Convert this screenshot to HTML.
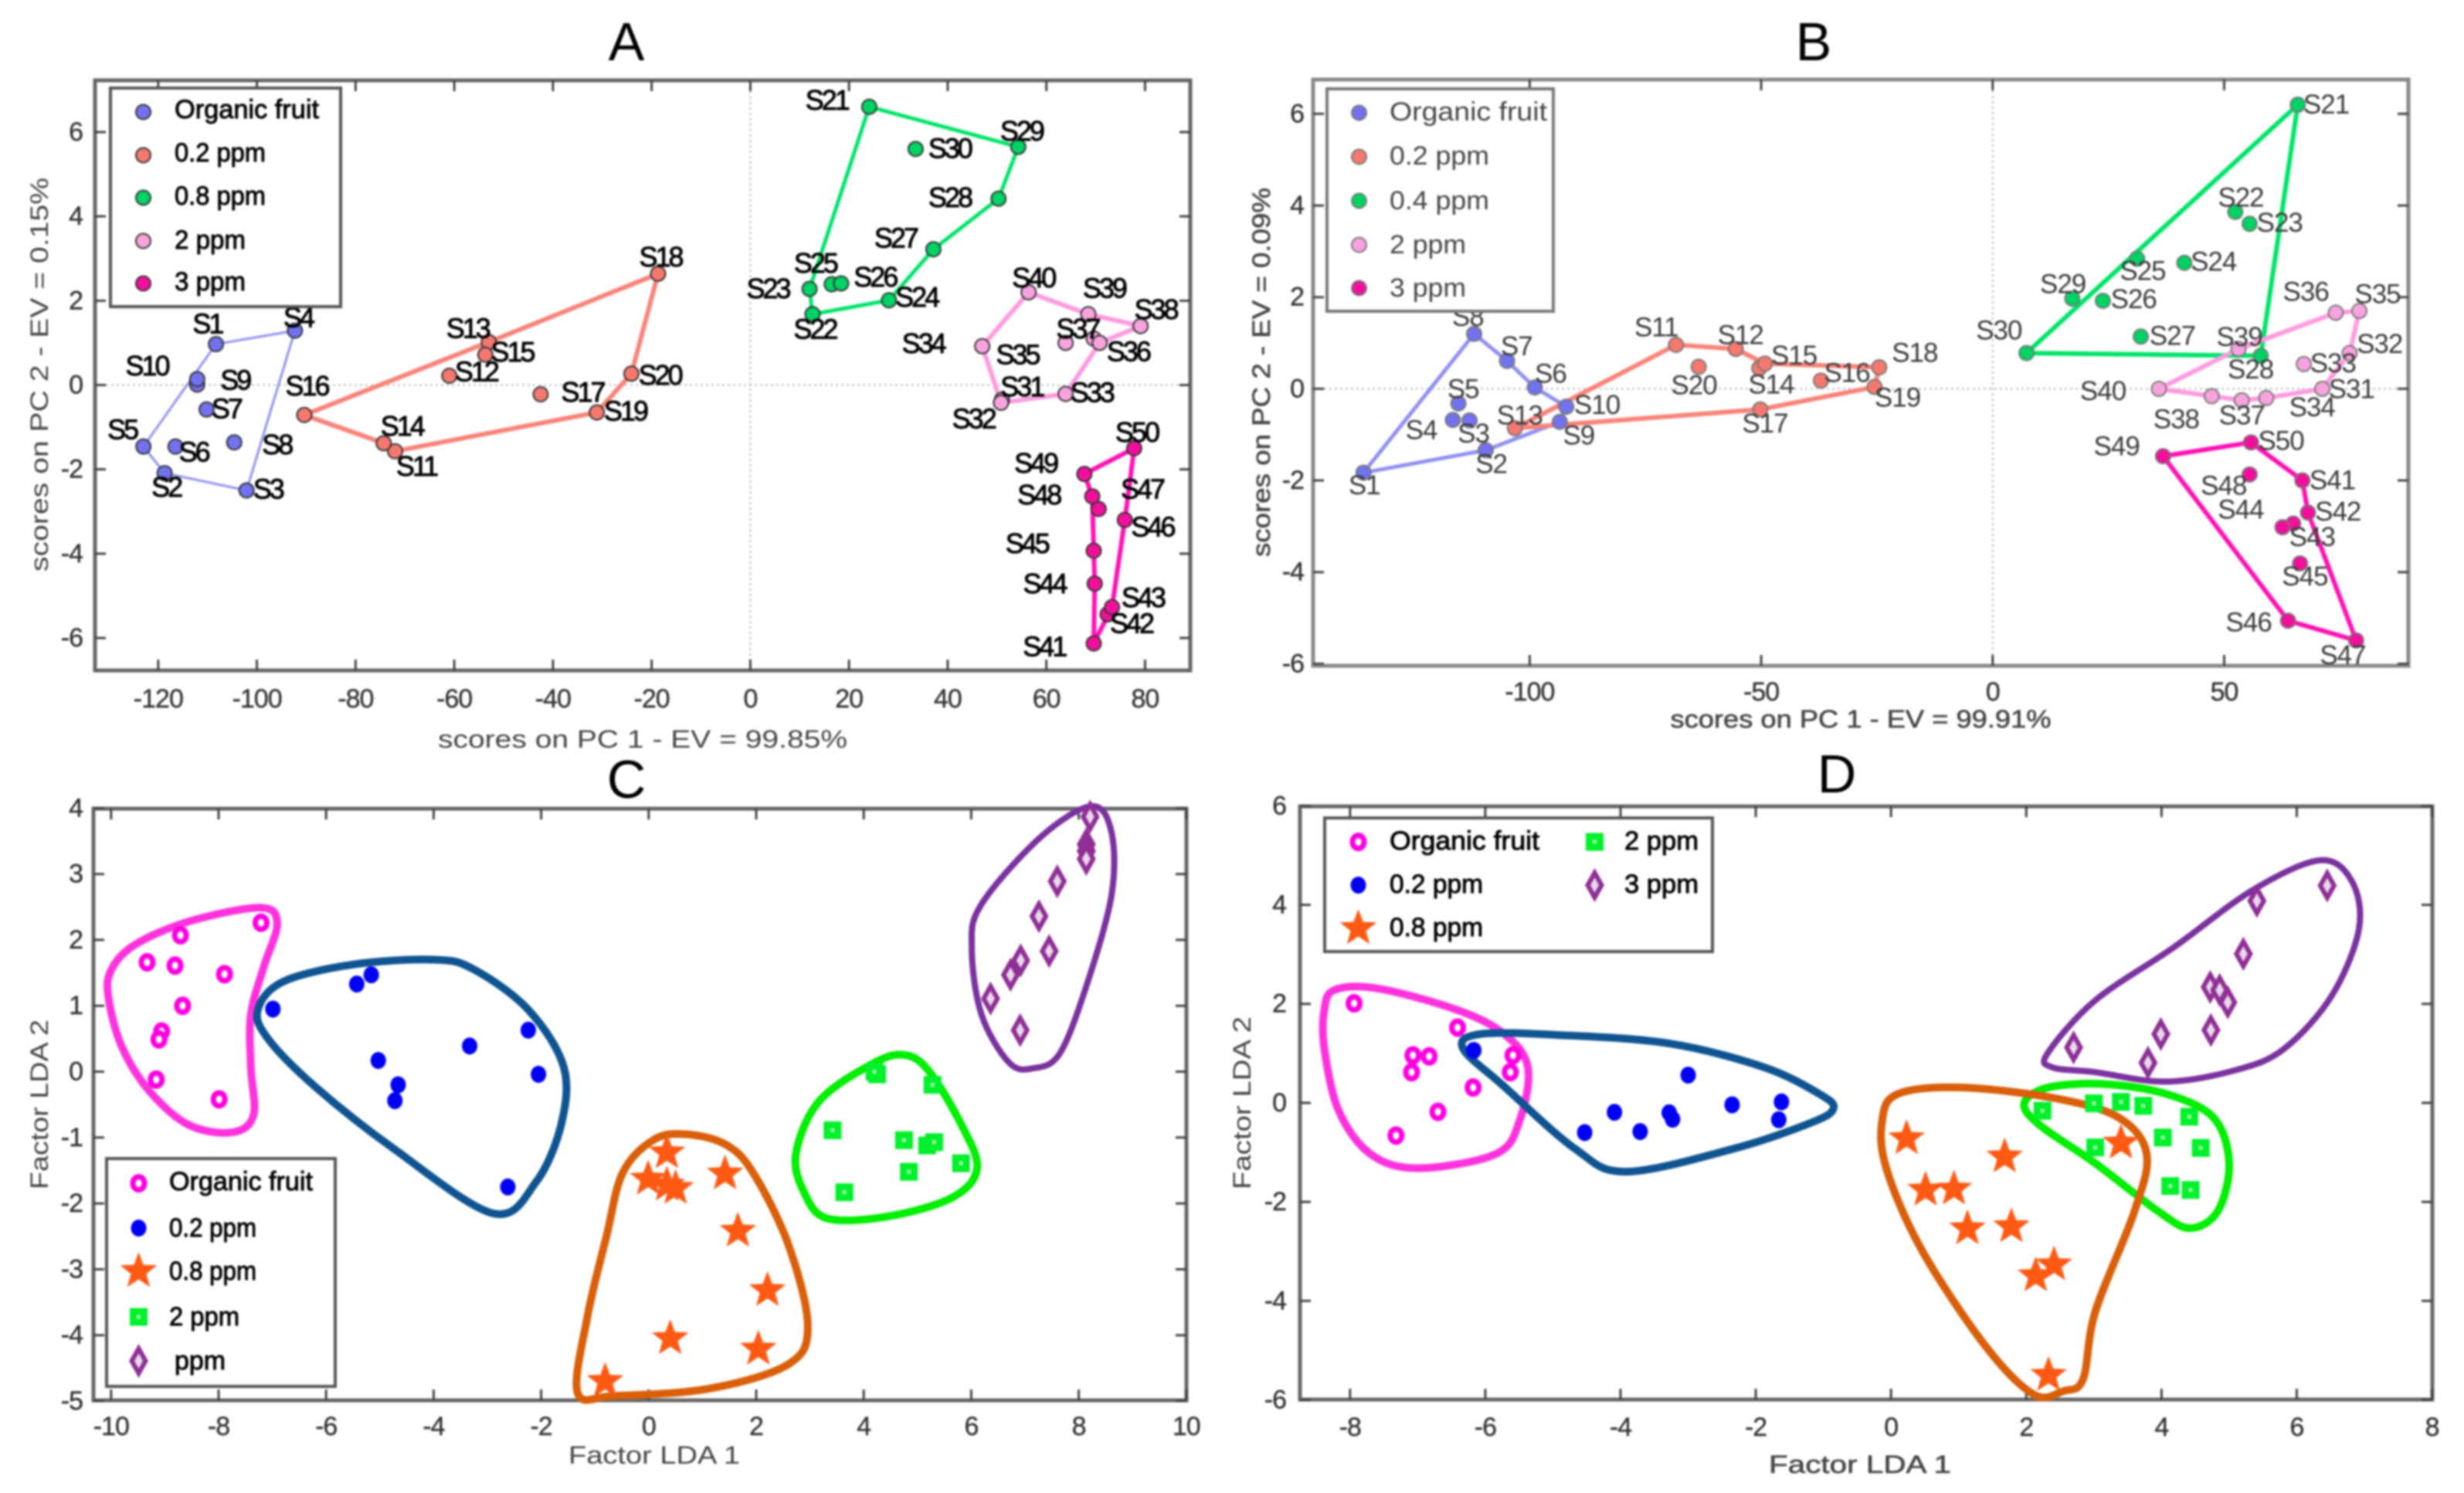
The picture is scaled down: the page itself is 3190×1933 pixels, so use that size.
<!DOCTYPE html>
<html lang="en">
<head>
<meta charset="utf-8">
<title>PCA and LDA score plots</title>
<style>
html,body{margin:0;padding:0;background:#fff;width:3190px;height:1933px;overflow:hidden}
svg{display:block;filter:blur(1.2px)}
text{font-family:"Liberation Sans",sans-serif;dominant-baseline:central}
.title{font-size:70px;fill:#000;text-anchor:middle}
.axt{font-size:32px;fill:#444;text-anchor:middle}
.leg{font-size:34px;fill:#000;stroke:#000;stroke-width:.9px}
.legb{font-size:34px;fill:#444}
.box{fill:#fff;stroke:#555;stroke-width:4}
.frame{fill:#fff;stroke:#666;stroke-width:5}
</style>
</head>
<body>
<svg id="figure" xmlns="http://www.w3.org/2000/svg" width="3190" height="1933" viewBox="0 0 3190 1933">
<rect x="0" y="0" width="3190" height="1933" fill="#fff"/>

<g id="panel-a">
  <text class="title" x="811" y="54">A</text>
  <rect class="frame" x="123" y="104" width="1418" height="764"/>
  <g id="a-marks"></g>
  <text class="axt" x="832" y="957" textLength="530" lengthAdjust="spacingAndGlyphs">scores on PC 1 - EV = 99.85%</text>
  <text class="axt" transform="translate(51 485) rotate(-90)" textLength="510" lengthAdjust="spacingAndGlyphs">scores on PC 2 - EV = 0.15%</text>
  <g id="a-legend">
    <rect class="box" x="143" y="114" width="298" height="283"/>
    <text class="leg" x="226" y="142" textLength="187" lengthAdjust="spacingAndGlyphs">Organic fruit</text>
    <text class="leg" x="226" y="198" textLength="118" lengthAdjust="spacingAndGlyphs">0.2 ppm</text>
    <text class="leg" x="226" y="254" textLength="118" lengthAdjust="spacingAndGlyphs">0.8 ppm</text>
    <text class="leg" x="226" y="311" textLength="92" lengthAdjust="spacingAndGlyphs">2 ppm</text>
    <text class="leg" x="226" y="365" textLength="92" lengthAdjust="spacingAndGlyphs">3 ppm</text>
  </g>
</g>

<g id="panel-b">
  <text class="title" x="2348" y="54">B</text>
  <rect class="frame" x="1700" y="103" width="1418" height="759" style="stroke:#888"/>
  <g id="b-marks"></g>
  <text class="axt" x="2409" y="931" textLength="493" lengthAdjust="spacingAndGlyphs" style="stroke:#444;stroke-width:.6px">scores on PC 1 - EV = 99.91%</text>
  <text class="axt" transform="translate(1633 482) rotate(-90)" textLength="478" lengthAdjust="spacingAndGlyphs" style="stroke:#444;stroke-width:.6px">scores on PC 2 - EV = 0.09%</text>
  <g id="b-legend">
    <rect class="box" x="1718" y="115" width="293" height="288" style="stroke:#777"/>
    <text class="legb" x="1799" y="145" textLength="204" lengthAdjust="spacingAndGlyphs">Organic fruit</text>
    <text class="legb" x="1799" y="202" textLength="129" lengthAdjust="spacingAndGlyphs">0.2 ppm</text>
    <text class="legb" x="1799" y="260" textLength="129" lengthAdjust="spacingAndGlyphs">0.4 ppm</text>
    <text class="legb" x="1799" y="317" textLength="99" lengthAdjust="spacingAndGlyphs">2 ppm</text>
    <text class="legb" x="1799" y="373" textLength="99" lengthAdjust="spacingAndGlyphs">3 ppm</text>
  </g>
</g>

<g id="panel-c">
  <text class="title" x="811" y="1009">C</text>
  <rect class="frame" x="121" y="1047" width="1415" height="766"/>
  <g id="c-marks"></g>
  <text class="axt" x="847" y="1884" textLength="222" lengthAdjust="spacingAndGlyphs">Factor LDA 1</text>
  <text class="axt" transform="translate(51 1430) rotate(-90)" textLength="220" lengthAdjust="spacingAndGlyphs">Factor LDA 2</text>
  <g id="c-legend">
    <rect class="box" x="138" y="1500" width="296" height="295"/>
    <text class="leg" x="219" y="1530" textLength="186" lengthAdjust="spacingAndGlyphs">Organic fruit</text>
    <text class="leg" x="219" y="1590" textLength="113" lengthAdjust="spacingAndGlyphs">0.2 ppm</text>
    <text class="leg" x="219" y="1646" textLength="113" lengthAdjust="spacingAndGlyphs">0.8 ppm</text>
    <text class="leg" x="219" y="1705" textLength="91" lengthAdjust="spacingAndGlyphs">2 ppm</text>
    <text class="leg" x="226" y="1762" textLength="66" lengthAdjust="spacingAndGlyphs">ppm</text>
  </g>
</g>

<g id="panel-d">
  <text class="title" x="2378" y="1002">D</text>
  <rect class="frame" x="1683" y="1044" width="1466" height="768"/>
  <g id="d-marks"></g>
  <text class="axt" x="2408" y="1896" textLength="236" lengthAdjust="spacingAndGlyphs" style="stroke:#444;stroke-width:.6px">Factor LDA 1</text>
  <text class="axt" transform="translate(1608 1428) rotate(-90)" textLength="224" lengthAdjust="spacingAndGlyphs">Factor LDA 2</text>
  <g id="d-legend">
    <rect class="box" x="1715" y="1059" width="502" height="173"/>
    <text class="leg" x="1799" y="1089" textLength="194" lengthAdjust="spacingAndGlyphs">Organic fruit</text>
    <text class="leg" x="1799" y="1145" textLength="121" lengthAdjust="spacingAndGlyphs">0.2 ppm</text>
    <text class="leg" x="1799" y="1201" textLength="121" lengthAdjust="spacingAndGlyphs">0.8 ppm</text>
    <text class="leg" x="2103" y="1089" textLength="96" lengthAdjust="spacingAndGlyphs">2 ppm</text>
    <text class="leg" x="2103" y="1145" textLength="96" lengthAdjust="spacingAndGlyphs">3 ppm</text>
  </g>
</g>
</svg>

<script>
/* ---------- shared sample names ---------- */
const sampleNames = ['S1','S2','S3','S4','S5','S6','S7','S8','S9','S10','S11','S12','S13','S14','S15','S16','S17','S18','S19','S20','S21','S22','S23','S24','S25','S26','S27','S28','S29','S30','S31','S32','S33','S34','S35','S36','S37','S38','S39','S40','S41','S42','S43','S44','S45','S46','S47','S48','S49','S50'];

/* ---------- panel A: PCA scores ---------- */
const aScoresX = [-108.3,-118.7,-102.1,-92.3,-123,-116.5,-110.2,-104.6,-112.1,-112.1, -72,-61,-53,-74.3,-53.7,-90.4,-42.5,-18.7,-31.1,-24.1, 24.1,12.6,12,28.1,16.5,18.4,37.1,50.3,54.3,33.5, 51,50.8,63.9,47,69.6,70.8,63.9,79.1,68.5,56.4, 69.6,72.4,73.3,69.8,69.6,75.9,70.6,69.3,67.7,77.8];
const aScoresY = [0.97,-2.09,-2.5,1.29,-1.46,-1.46,-0.58,-1.36,0.01,0.14, -1.57,0.22,1.02,-1.38,0.72,-0.71,-0.22,2.64,-0.65,0.27, 6.6,1.68,2.28,2.01,2.39,2.41,3.22,4.42,5.65,5.6, -0.35,-0.42,-0.21,0.92,1.1,1.0,1.0,1.4,1.68,2.2, -6.13,-5.44,-5.27,-4.71,-3.93,-3.2,-2.94,-2.64,-2.11,-1.5];
const aXTicks = [-120,-100,-80,-60,-40,-20,0,20,40,60,80];
const aYTicks = [-6,-4,-2,0,2,4,6];
const aHulls = [[1,4,3,2,5],[16,13,18,20,19,11,14],[21,29,28,27,24,22,23],[40,39,38,36,33,32,34],[49,50,46,43,41,44,45,48]];

/* ---------- panel B: PCA scores ---------- */
const bScoresX = [-135.9,-109.5,-113,-116.6,-115.4,-98.9,-104.9,-112,-93.5,-92.1, -68.4,-55.5,-103.2,-50.4,-49.2,-37.1,-50.2,-24.5,-25.5,-63.5, 65.9,52.4,55.5,41.4,31.2,23.8,32,57.9,17.2,7.3, 71.2,77.1,67.2,59.1,79.2,74.1,53.8,47.3,53.1,35.9, 66.9,68.1,64.9,62.6,66.4,63.8,78.5,55.5,36.8,55.8];
const bScoresY = [-1.83,-1.34,-0.69,-0.68,-0.32,0.03,0.61,1.2,-0.72,-0.39, 0.96,0.87,-0.86,0.45,0.55,0.18,-0.45,0.47,0.04,0.48, 6.2,3.86,3.6,2.75,2.84,1.92,1.14,0.72,1.97,0.78, 0,0.78,0.54,-0.2,1.7,1.66,-0.25,-0.16,0.87,0, -2,-2.7,-2.94,-3.02,-3.81,-5.06,-5.49,-1.87,-1.47,-1.17];
const bXTicks = [-100,-50,0,50];
const bYTicks = [-6,-4,-2,0,2,4,6];
const bHulls = [[1,8,7,6,10,9,2],[13,11,12,15,18,19,17],[30,21,28],[40,39,36,35,32,31,34,37,38],[49,50,41,42,47,46]];

/* ---------- panel C: LDA factors ---------- */
const cXTicks = [-10,-8,-6,-4,-2,0,2,4,6,8,10];
const cYTicks = [-5,-4,-3,-2,-1,0,1,2,3,4];
const cOrganicX = [-9.33,-8.81,-8.71,-7.21,-7.89,-8.67,-9.06,-9.11,-9.16,-7.99];
const cOrganicY = [1.66,1.61,2.07,2.26,1.48,1.0,0.61,0.49,-0.12,-0.42];
const cPpm02X = [-6.99,-5.43,-5.16,-5.03,-4.66,-4.72,-3.33,-2.24,-2.05,-2.62];
const cPpm02Y = [0.95,1.33,1.47,0.17,-0.2,-0.44,0.39,0.63,-0.04,-1.75];
const cPpm08X = [0.34,-0.01,0.34,0.5,1.42,1.66,2.21,0.4,2.04,-0.81];
const cPpm08Y = [-1.23,-1.63,-1.72,-1.77,-1.55,-2.42,-3.32,-4.05,-4.21,-4.7];
const cPpm2X = [4.25,4.2,5.28,3.42,4.75,5.18,5.31,4.84,5.81,3.64];
const cPpm2Y = [-0.04,0,-0.2,-0.89,-1.04,-1.12,-1.07,-1.52,-1.39,-1.83];
const cPpm3X = [8.21,8.14,8.14,8.14,7.6,7.26,7.45,6.92,6.73,6.36,6.91];
const cPpm3Y = [3.87,3.45,3.35,3.23,2.89,2.36,1.83,1.69,1.47,1.11,0.63];
const cOrganicOutline = [[-10.01,1.52],[-9.57,1.92],[-8.55,2.28],[-7.23,2.49],[-6.91,2.25],[-7.16,1.59],[-7.4,0.87],[-7.4,0.07],[-7.35,-0.66],[-7.74,-0.92],[-8.55,-0.81],[-9.28,-0.3],[-9.79,0.36],[-10.04,1.08]];
const cPpm02Outline = [[-7.27,0.94],[-6.79,1.37],[-5.47,1.63],[-4,1.7],[-3.27,1.56],[-2.24,0.94],[-1.58,0.07],[-1.63,-0.81],[-2.1,-1.68],[-2.9,-2.15],[-4.74,-1.17],[-6.2,-0.23],[-7.08,0.5]];
const cPpm08Outline = [[-1.32,-4.88],[-1.14,-3.72],[-0.78,-2.48],[-0.48,-1.53],[0.1,-1.03],[0.69,-0.95],[1.42,-1.1],[1.94,-1.53],[2.6,-2.63],[2.96,-3.86],[2.6,-4.44],[1.13,-4.81],[-0.63,-4.92]];
const cPpm2Outline = [[2.74,-1.24],[3.18,-0.44],[4.21,0.14],[4.79,0.25],[5.23,-0.01],[5.82,-0.81],[6.11,-1.46],[5.67,-1.9],[4.5,-2.19],[3.33,-2.23],[2.89,-1.83]];
const cPpm3Outline = [[6.01,1.88],[6.19,2.54],[7.29,3.56],[8.24,4.03],[8.61,3.63],[8.61,2.68],[8.17,1.37],[7.65,0.28],[7.14,0.05],[6.7,0.14],[6.19,0.87]];

/* ---------- panel D: LDA factors ---------- */
const dXTicks = [-8,-6,-4,-2,0,2,4,6,8];
const dYTicks = [-6,-4,-2,0,2,4,6];
const dOrganicX = [-7.94,-6.41,-7.07,-6.83,-7.09,-6.18,-6.7,-7.32,-5.59,-5.63];
const dOrganicY = [2.01,1.52,0.96,0.94,0.62,0.31,-0.18,-0.66,0.96,0.62];
const dPpm02X = [-6.17,-4.53,-4.09,-3.71,-3.28,-3.23,-3,-2.35,-1.62,-1.66];
const dPpm02Y = [1.06,-0.6,-0.19,-0.58,-0.2,-0.33,0.56,-0.04,0.02,-0.34];
const dPpm08X = [0.23,1.68,0.51,0.93,1.13,1.78,2.41,2.14,2.33,3.4];
const dPpm08Y = [-0.72,-1.09,-1.76,-1.74,-2.54,-2.5,-3.27,-3.49,-5.5,-0.81];
const dPpm2X = [2.24,3,3.4,3.73,4.41,4.02,4.58,3.02,4.13,4.43];
const dPpm2Y = [-0.16,-0.01,0.02,-0.06,-0.28,-0.7,-0.91,-0.9,-1.68,-1.76];
const dPpm3X = [6.45,5.41,5.21,4.72,4.86,4.98,4.73,3.99,3.8,2.7];
const dPpm3Y = [4.39,4.08,3.01,2.34,2.28,2.03,1.47,1.39,0.81,1.12];
const dOrganicOutline = [[-8.38,1.88],[-8.23,2.28],[-7.59,2.31],[-6.42,1.88],[-5.72,1.39],[-5.37,0.72],[-5.49,-0.35],[-5.84,-1.03],[-7,-1.32],[-7.7,-1.03],[-8.17,-0.15],[-8.38,1.1]];
const dPpm02Outline = [[-6.33,1.1],[-6.07,1.39],[-4.91,1.37],[-3.28,1.2],[-1.88,0.72],[-1.06,0.18],[-0.85,-0.11],[-1.18,-0.4],[-2.34,-0.93],[-3.92,-1.39],[-4.67,-0.93],[-5.72,0.33]];
const dPpm08Outline = [[-0.13,-0.35],[0.1,0.18],[1.04,0.31],[2.44,0.09],[3.37,-0.3],[3.78,-1.03],[3.6,-2.19],[3.02,-4.22],[2.84,-5.58],[2.55,-5.82],[2.11,-5.89],[1.39,-4.9],[0.45,-2.96],[-0.07,-1.32]];
const dPpm2Outline = [[1.97,-0.01],[2.32,0.31],[3.14,0.38],[4.07,0.18],[4.77,-0.3],[5,-1.22],[4.83,-2.19],[4.42,-2.53],[3.95,-2.19],[3.02,-1.22],[2.2,-0.45]];
const dPpm3Outline = [[2.32,1.01],[3.02,2.07],[4.18,3.14],[5.35,4.3],[6.34,4.9],[6.81,4.49],[6.92,3.52],[6.52,2.17],[5.82,1.1],[5.12,0.67],[4.07,0.43],[3.02,0.62],[2.38,0.72]];

/* ---------- layout (label nudges, not data) ---------- */
const aLabelNudge = [[-11,-42],[2,28],[27,-3],[4,-27],[-27,-35],[23,11],[25,-2],[54,4],[48,-9],[-64,-27],[27,30],[34,-9],[-27,-28],[23,-35],[34,-6],[3,-59],[53,-5],[3,-34],[36,-3],[36,3],[-54,-14],[3,30],[-53,-1],[35,-7],[-21,-43],[43,-13],[-48,-23],[-62,-3],[4,-32],[43,-1],[25,-27],[-35,32],[33,-3],[-75,-6],[-97,32],[36,17],[15,-29],[19,-34],[20,-53],[6,-30],[-63,6],[30,18],[39,-20],[-64,0],[-85,-15],[35,14],[55,-41],[-68,-3],[-62,-22],[3,-33]];
const bLabelNudge = [[1,26],[7,28],[5,27],[-40,21],[6,-29],[20,-28],[12,-29],[-8,-34],[24,28],[39,-3],[-25,-35],[6,-28],[6,-26],[15,33],[37,-16],[33,-15],[6,29],[45,-29],[29,22],[-6,38],[36,0],[7,-29],[38,-2],[37,-2],[7,25],[39,-3],[40,-1],[-13,28],[-12,-29],[-35,-46],[37,1],[38,-18],[37,-1],[58,19],[23,-34],[-38,-42],[0,31],[-45,47],[1,-24],[-71,5],[38,0],[38,-2],[24,28],[-53,-35],[6,27],[-50,4],[-17,30],[-33,23],[-59,-20],[38,-3]];

const NS = 'http://www.w3.org/2000/svg';
function make(parent, tag, attrs) {
  const el = document.createElementNS(NS, tag);
  for (const k in attrs) el.setAttribute(k, attrs[k]);
  parent.appendChild(el);
  return el;
}
function linear(zeroPx, pxPerUnit) { return v => zeroPx + pxPerUnit * v; }

const axisA = { x: linear(971.4, 6.388), y: linear(498.5, -54.58), box: [123, 104, 1541, 868], xLabelY: 905, yLabelX: 107 };
const axisB = { x: linear(2579.8, 5.994), y: linear(503.4, -59.33), box: [1700, 103, 3118, 862], xLabelY: 896, yLabelX: 1688 };
const axisC = { x: linear(839.8, 69.6), y: linear(1387.5, -85.3), box: [121, 1047, 1536, 1813], xLabelY: 1847, yLabelX: 107 };
const axisD = { x: linear(2448.2, 87.55), y: linear(1427.9, -64.1), box: [1683, 1044, 3149, 1812], xLabelY: 1848, yLabelX: 1665 };

function drawAxes(parent, axis, xTicks, yTicks, zeroLines) {
  const [l, t, r, b] = axis.box;
  if (zeroLines) {
    const zx = make(parent, 'line', { x1: axis.x(0), x2: axis.x(0), y1: t, y2: b, stroke: '#bbb', 'stroke-width': 2, 'stroke-dasharray': '3 4' });
    
    
    const zy = make(parent, 'line', { x1: l, x2: r, y1: axis.y(0), y2: axis.y(0), stroke: '#bbb', 'stroke-width': 2, 'stroke-dasharray': '3 4' });
    
    
  }
  xTicks.forEach(v => {
    const p = axis.x(v);
    const tb = make(parent, 'path', { d: `M${p} ${b}V${b - 14}M${p} ${t}V${t + 14}`, stroke: '#444', 'stroke-width': 3, fill: 'none' });
    
    
    const lab = make(parent, 'text', { x: p, y: axis.xLabelY, 'text-anchor': 'middle', 'font-size': 34, fill: '#333', stroke: '#333', 'stroke-width': 0.4, 'letter-spacing': -1 });
    
    
    lab.textContent = String(v);
  });
  yTicks.forEach(v => {
    const p = axis.y(v);
    const tb = make(parent, 'path', { d: `M${l} ${p}H${l + 14}M${r} ${p}H${r - 14}`, stroke: '#444', 'stroke-width': 3, fill: 'none' });
    
    
    const lab = make(parent, 'text', { x: axis.yLabelX, y: p, 'text-anchor': 'end', 'font-size': 34, fill: '#333', stroke: '#333', 'stroke-width': 0.4, 'letter-spacing': -1 });
    
    
    lab.textContent = String(v);
  });
}

const discFill = ['#7272ee', '#f4786e', '#00d264', '#f7a3de', '#f0109c'];
const hullStroke = ['#8f8ff2', '#f98379', '#00e468', '#ff9be0', '#ff12b4'];

function disc(parent, cx, cy, fill, edge) {
  return make(parent, 'circle', { cx: cx, cy: cy, r: 9.5, fill: fill, stroke: edge, 'stroke-width': 2 });
}

function drawScores(parent, axis, xs, ys, hulls, nudge, hullWidths, edge, labelAttrs) {
  hulls.forEach((hull, i) => {
    const pts = hull.map(n => axis.x(xs[n - 1]) + ',' + axis.y(ys[n - 1])).join(' ');
    const poly = make(parent, 'polygon', { points: pts, fill: 'none', stroke: hullStroke[i], 'stroke-width': hullWidths[i], 'stroke-linejoin': 'round' });
    
    
  });
  xs.forEach((v, i) => {
    const group = Math.floor(i / 10);
    const pt = disc(parent, axis.x(v), axis.y(ys[i]), discFill[group], edge);
    
    
  });
  xs.forEach((v, i) => {
    const lab = make(parent, 'text', Object.assign({
      x: axis.x(v) + nudge[i][0] * 1.0204,
      y: axis.y(ys[i]) + nudge[i][1] * 0.638,
      'text-anchor': 'middle'
    }, labelAttrs));
    
    
    lab.textContent = sampleNames[i];
  });
}

function starPath(cx, cy, R) {
  let d = '';
  for (let i = 0; i < 10; i++) {
    const rad = i % 2 ? R * 0.42 : R;
    const a = -Math.PI / 2 + i * Math.PI / 5;
    d += (i ? 'L' : 'M') + (cx + rad * Math.cos(a)) + ' ' + (cy + rad * Math.sin(a));
  }
  return d + 'Z';
}

function ldaMarker(parent, kind, cx, cy) {
  if (kind === 'ring') return make(parent, 'ellipse', { cx: cx, cy: cy, rx: 7.5, ry: 8.5, fill: '#fff', stroke: '#ff00e0', 'stroke-width': 7 });
  if (kind === 'solid') return make(parent, 'ellipse', { cx: cx, cy: cy, rx: 10, ry: 11, fill: '#0000f5' });
  if (kind === 'star') return make(parent, 'path', { d: starPath(cx, cy, 25), fill: '#ff5a14' });
  if (kind === 'square') return make(parent, 'rect', { x: cx - 7, y: cy - 7, width: 14, height: 14, fill: '#a8ffa8', stroke: '#00f02c', 'stroke-width': 9 });
  return make(parent, 'path', { d: `M${cx} ${cy - 16}L${cx + 9} ${cy}L${cx} ${cy + 16}L${cx - 9} ${cy}Z`, fill: '#e8d8ea', stroke: '#8f2f96', 'stroke-width': 6 });
}

function smoothClosed(pts) {
  const n = pts.length;
  let d = `M${pts[0][0]} ${pts[0][1]}`;
  for (let i = 0; i < n; i++) {
    const p0 = pts[(i - 1 + n) % n], p1 = pts[i], p2 = pts[(i + 1) % n], p3 = pts[(i + 2) % n];
    d += `C${p1[0] + (p2[0] - p0[0]) / 6} ${p1[1] + (p2[1] - p0[1]) / 6} ${p2[0] - (p3[0] - p1[0]) / 6} ${p2[1] - (p3[1] - p1[1]) / 6} ${p2[0]} ${p2[1]}`;
  }
  return d + 'Z';
}

function drawOutline(parent, axis, outline, colour, width) {
  const pts = outline.map(p => [axis.x(p[0]), axis.y(p[1])]);
  const path = make(parent, 'path', { d: smoothClosed(pts), fill: 'none', stroke: colour, 'stroke-width': width, 'stroke-linejoin': 'round' });
  
  
}

function drawPoints(parent, axis, kind, xs, ys) {
  xs.forEach((v, i) => {
    const m = ldaMarker(parent, kind, axis.x(v), axis.y(ys[i]));
    
    
  });
}

/* ---------- build panels ---------- */
const aMarks = document.getElementById('a-marks');
drawAxes(aMarks, axisA, aXTicks, aYTicks, true);
drawScores(aMarks, axisA, aScoresX, aScoresY, aHulls, aLabelNudge, [3, 6, 5, 6, 6], '#333', { 'font-size': 36, fill: '#000', stroke: '#000', 'stroke-width': 0.9, 'letter-spacing': -3 });

const bMarks = document.getElementById('b-marks');
drawAxes(bMarks, axisB, bXTicks, bYTicks, true);
drawScores(bMarks, axisB, bScoresX, bScoresY, bHulls, bLabelNudge, [5, 6, 6, 6, 6], '#777', { 'font-size': 35, fill: '#3a3a3a', 'letter-spacing': -1 });

const cMarks = document.getElementById('c-marks');
drawAxes(cMarks, axisC, cXTicks, cYTicks, false);
drawOutline(cMarks, axisC, cOrganicOutline, '#ff33dd', 10);
drawOutline(cMarks, axisC, cPpm02Outline, '#0f5491', 10);
drawOutline(cMarks, axisC, cPpm08Outline, '#d95f0a', 10);
drawOutline(cMarks, axisC, cPpm2Outline, '#00ee00', 10);
drawOutline(cMarks, axisC, cPpm3Outline, '#7a329e', 8);
drawPoints(cMarks, axisC, 'ring', cOrganicX, cOrganicY);
drawPoints(cMarks, axisC, 'solid', cPpm02X, cPpm02Y);
drawPoints(cMarks, axisC, 'star', cPpm08X, cPpm08Y);
drawPoints(cMarks, axisC, 'square', cPpm2X, cPpm2Y);
drawPoints(cMarks, axisC, 'diamond', cPpm3X, cPpm3Y);

const dMarks = document.getElementById('d-marks');
drawAxes(dMarks, axisD, dXTicks, dYTicks, false);
drawOutline(dMarks, axisD, dOrganicOutline, '#ff33dd', 10);
drawOutline(dMarks, axisD, dPpm2Outline, '#00ee00', 10);
drawOutline(dMarks, axisD, dPpm02Outline, '#0f5491', 10);
drawOutline(dMarks, axisD, dPpm08Outline, '#d95f0a', 10);
drawOutline(dMarks, axisD, dPpm3Outline, '#7a329e', 8);
drawPoints(dMarks, axisD, 'ring', dOrganicX, dOrganicY);
drawPoints(dMarks, axisD, 'solid', dPpm02X, dPpm02Y);
drawPoints(dMarks, axisD, 'square', dPpm2X, dPpm2Y);
drawPoints(dMarks, axisD, 'star', dPpm08X, dPpm08Y);
drawPoints(dMarks, axisD, 'diamond', dPpm3X, dPpm3Y);

/* ---------- legend markers ---------- */
function legendDiscs(id, px, rows, edge) {
  const g = document.getElementById(id);
  rows.forEach((py, i) => {
    const m = disc(g, px, py, discFill[i], edge);
    
    
  });
}
legendDiscs('a-legend', 185.5, [145, 201, 256, 312, 367], '#333');
legendDiscs('b-legend', 1759.5, [146, 203, 260, 317, 373], '#777');

function legendMarker(id, kind, px, py) {
  const m = ldaMarker(document.getElementById(id), kind, px, py);
  
  
}
legendMarker('c-legend', 'ring', 179.5, 1532);
legendMarker('c-legend', 'solid', 179.5, 1590);
legendMarker('c-legend', 'star', 179.5, 1646);
legendMarker('c-legend', 'square', 179.5, 1705);
legendMarker('c-legend', 'diamond', 179.5, 1762);
legendMarker('d-legend', 'ring', 1758.5, 1090);
legendMarker('d-legend', 'solid', 1758.5, 1146);
legendMarker('d-legend', 'star', 1758.5, 1202);
legendMarker('d-legend', 'square', 2064.5, 1090);
legendMarker('d-legend', 'diamond', 2064.5, 1146);
</script>
</body>
</html>
